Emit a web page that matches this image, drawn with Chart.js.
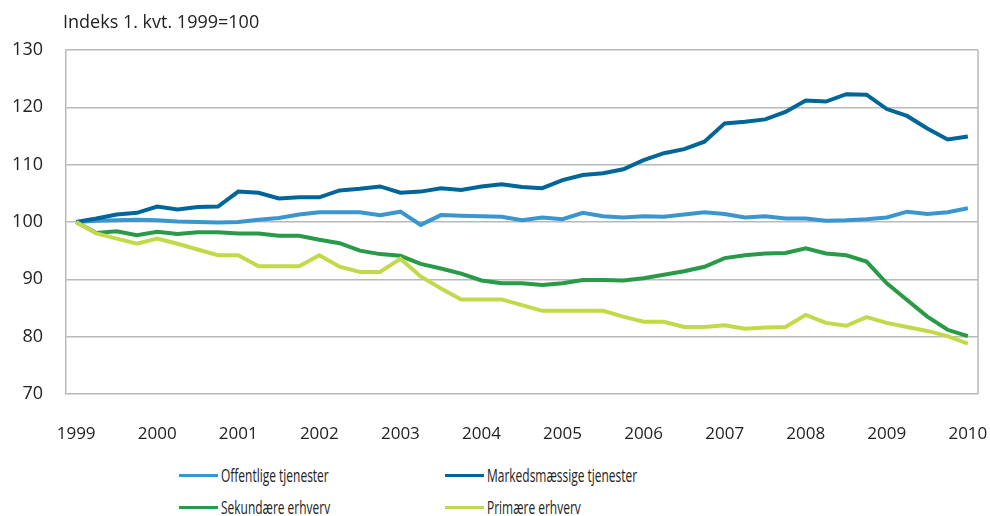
<!DOCTYPE html>
<html>
<head>
<meta charset="utf-8">
<script src="https://cdn.jsdelivr.net/npm/chart.js@4/dist/chart.umd.min.js"></script>
<style>
    body { margin: 0; background: #fff; }
    #wrap { position: relative; width: 990px; height: 516px; font-family: "Open Sans", sans-serif; color: #222; }
    #unit { position: absolute; left: 63px; top: 9px; font-size: 18px; }
    #legend { position: absolute; left: 0; top: 465px; width: 990px; }
    .item { position: absolute; font-size: 19px; line-height: 20px; white-space: nowrap; }
    .item span.swatch { position: absolute; top: 9px; width: 39px; height: 3px; }
    .item span.txt { position: absolute; left: 42px; top: 0; transform: scaleX(0.63); transform-origin: left center; }
</style>
</head>
<body>
<div id="wrap">
    <canvas id="myChart" width="990" height="452"></canvas>
    <div id="unit">Indeks 1. kvt. 1999=100</div>
    <div id="legend"></div>
</div>
<script>
const years = ['1999', '2000', '2001', '2002', '2003', '2004', '2005', '2006', '2007', '2008', '2009', '2010'];
const quarters = [];
years.forEach(function (y, i) {
    if (i < years.length - 1) {
        for (let q = 1; q <= 4; q++) quarters.push(y + 'K' + q);
    } else {
        quarters.push(y + 'K1');
    }
});

const offentlige = [100, 100.2, 100.3, 100.4, 100.3, 100.1, 100.0, 99.9, 100.0, 100.4, 100.7, 101.3, 101.7, 101.7, 101.7, 101.2,
    101.8, 99.5, 101.2, 101.1, 101.0, 100.9, 100.3, 100.8, 100.5, 101.6, 101.0, 100.8, 101.0, 100.9, 101.3, 101.7,
    101.4, 100.8, 101.0, 100.6, 100.6, 100.2, 100.3, 100.5, 100.8, 101.8, 101.4, 101.7, 102.4];
const markeds = [100, 100.6, 101.3, 101.6, 102.7, 102.2, 102.6, 102.7, 105.3, 105.1, 104.1, 104.3, 104.3, 105.5, 105.8, 106.2,
    105.1, 105.3, 105.9, 105.6, 106.2, 106.6, 106.1, 105.9, 107.3, 108.2, 108.5, 109.2, 110.8, 112.0, 112.7, 114.0,
    117.2, 117.5, 117.9, 119.2, 121.2, 121.0, 122.3, 122.2, 119.7, 118.5, 116.3, 114.4, 114.9];
const sekundaere = [100, 98.1, 98.4, 97.7, 98.3, 97.9, 98.2, 98.2, 98.0, 98.0, 97.6, 97.6, 96.9, 96.3, 95.0, 94.4,
    94.1, 92.7, 91.9, 91.0, 89.8, 89.3, 89.3, 89.0, 89.3, 89.9, 89.9, 89.8, 90.2, 90.8, 91.4, 92.2,
    93.7, 94.2, 94.5, 94.6, 95.4, 94.5, 94.2, 93.1, 89.3, 86.4, 83.5, 81.2, 80.1];
const primaere = [100, 98.0, 97.1, 96.2, 97.1, 96.2, 95.2, 94.2, 94.2, 92.3, 92.3, 92.3, 94.2, 92.2, 91.3, 91.3,
    93.6, 90.5, 88.4, 86.5, 86.5, 86.5, 85.5, 84.5, 84.5, 84.5, 84.5, 83.5, 82.6, 82.6, 81.7, 81.7,
    82.0, 81.4, 81.6, 81.7, 83.8, 82.4, 81.9, 83.4, 82.4, 81.7, 81.0, 80.1, 78.8];

const seriesNames = ['Offentlige tjenester', 'Markedsmæssige tjenester', 'Sekundære erhverv', 'Primære erhverv'];
const seriesColors = ['#3a96cf', '#006699', '#289a48', '#c3d94a'];
const seriesData = [offentlige, markeds, sekundaere, primaere];

const fontFamily = '"Open Sans", sans-serif';
const gridColor = '#b9b9b9';

// right-hand frame line of the plot area
const rightBorder = {
    id: 'rightBorder',
    beforeDatasetsDraw(chart) {
        const a = chart.chartArea;
        const ctx = chart.ctx;
        ctx.save();
        ctx.strokeStyle = gridColor;
        ctx.lineWidth = 1.5;
        ctx.beginPath();
        ctx.moveTo(a.right, a.top);
        ctx.lineTo(a.right, a.bottom);
        ctx.stroke();
        ctx.restore();
    }
};

function buildChart() {
    const ctx = document.getElementById('myChart');
    new Chart(ctx, {
        type: 'line',
        data: {
            labels: quarters,
            datasets: seriesData.map(function (d, i) {
                return {
                    label: seriesNames[i],
                    data: d,
                    borderColor: seriesColors[i],
                    backgroundColor: seriesColors[i],
                    borderWidth: 4,
                    pointRadius: 0,
                    tension: 0,
                    order: 4 - i
                };
            })
        },
        options: {
            responsive: false,
            animation: false,
            layout: { padding: { left: 0, right: 12, top: 50, bottom: 0 } },
            plugins: {
                legend: { display: false },
                tooltip: { enabled: false }
            },
            scales: {
                x: {
                    offset: true,
                    grid: { display: false },
                    border: { display: false },
                    afterFit: function (s) {
                        s.height = 58;
                        s.paddingLeft = 0;
                        s.paddingRight = 0;
                    },
                    ticks: {
                        autoSkip: false,
                        maxRotation: 0,
                        padding: 22,
                        color: '#222',
                        font: { family: fontFamily, size: 17 },
                        callback: function (v, i) {
                            const l = quarters[i];
                            return l.endsWith('K1') ? l.slice(0, 4) : '';
                        }
                    }
                },
                y: {
                    min: 70,
                    max: 130,
                    afterFit: function (s) {
                        s.width = 66;
                        s.paddingTop = 0;
                        s.paddingBottom = 0;
                    },
                    grid: { color: gridColor, lineWidth: 1.5, drawTicks: false },
                    border: { display: true, color: gridColor, width: 1.5 },
                    ticks: {
                        stepSize: 10,
                        padding: 23,
                        color: '#222',
                        font: { family: fontFamily, size: 18 }
                    }
                }
            }
        },
        plugins: [rightBorder]
    });
}

function buildLegend() {
    const box = document.getElementById('legend');
    const cols = [179, 445];
    seriesNames.forEach(function (name, i) {
        const item = document.createElement('div');
        item.className = 'item';
        item.style.left = cols[i % 2] + 'px';
        item.style.top = (Math.floor(i / 2) * 32) + 'px';
        const sw = document.createElement('span');
        sw.className = 'swatch';
        sw.style.background = seriesColors[i];
        sw.style.left = '0px';
        const txt = document.createElement('span');
        txt.className = 'txt';
        txt.textContent = name;
        item.appendChild(sw);
        item.appendChild(txt);
        box.appendChild(item);
    });
}

buildChart();
buildLegend();
</script>
</body>
</html>
